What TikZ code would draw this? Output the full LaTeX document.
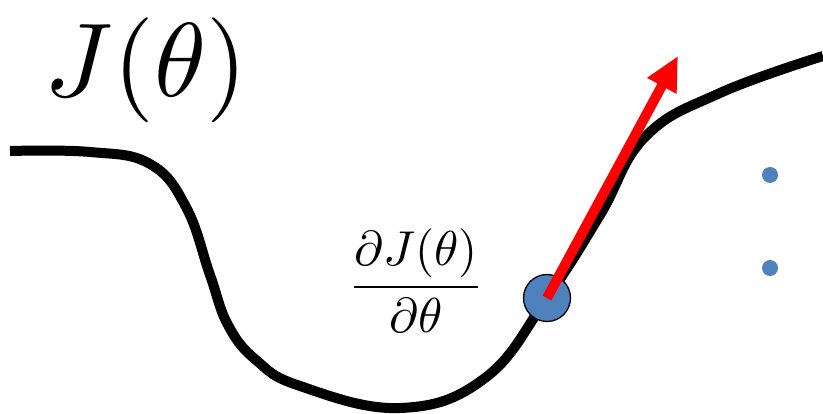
\documentclass[tikz,border=0pt]{standalone}
\usepackage{tikz}
\usetikzlibrary{arrows.meta}

\definecolor{ptblue}{RGB}{79,129,189}

\begin{document}
\begin{tikzpicture}[
  x=1pt,y=-1pt,
  cost/.style={line width=10pt,black},
  grad/.style={line width=10pt,red,-{Triangle[length=34pt,width=31pt]}},
  param/.style={circle,draw=black,line width=1.3pt,fill=ptblue,minimum size=47pt,inner sep=0pt},
  bullet/.style={circle,fill=ptblue,minimum size=16pt,inner sep=0pt}
]
  \useasboundingbox (0,0) rectangle (823,414);

  \draw[cost] plot[smooth,tension=0.7] coordinates {
    (10,151) (90,152) (150,164) (186,207) (210,275) (228,325) (256,360)
    (300,386) (400,408) (485,378) (547,298) (600,215) (645,137)
    (720,93) (823,56)};

  \node[anchor=base,scale=10.5] (cost) at (146,97) {$J(\theta)$};
  \node[scale=4.9] (deriv) at (416,281) {$\displaystyle\frac{\partial J(\theta)}{\partial\theta}$};

  \node[param] (theta) at (547,298) {};
  \coordinate (tip) at (678,56);
  \draw[grad] (theta.center) -- (tip);

  \node[bullet] (b1) at (770,175) {};
  \node[bullet] (b2) at (770,268) {};
\end{tikzpicture}
\end{document}
